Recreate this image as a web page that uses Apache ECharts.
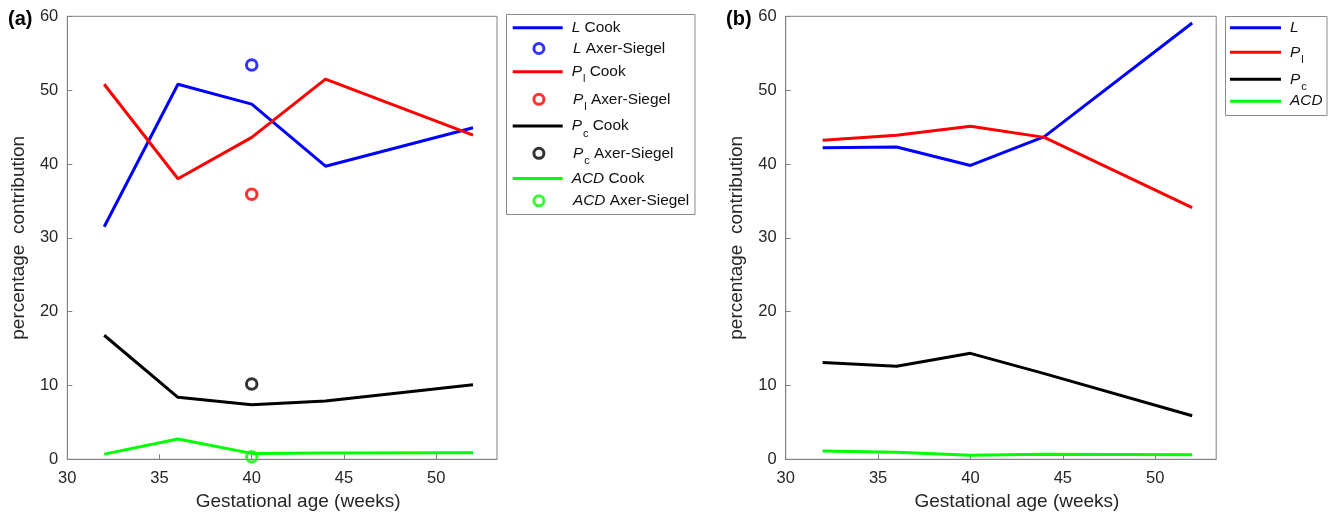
<!DOCTYPE html>
<html><head><meta charset="utf-8">
<script src="https://cdn.jsdelivr.net/npm/echarts@6/dist/echarts.min.js"></script>
<style>html,body{margin:0;padding:0;background:#fff}#c{width:1335px;height:517px}</style>
</head><body><div id="c"></div>
<script>
// ---------------- data ----------------
const weeks = [32, 36, 40, 44, 52];
const axerWeek = [40];
const xTickLabels = [30, 35, 40, 45, 50];
const yTickLabels = [0, 10, 20, 30, 40, 50, 60];

const aLCook   = [31.5, 50.8, 48.1, 39.7, 44.9];
const aPlCook  = [50.8, 38.0, 43.6, 51.5, 43.9];
const aPcCook  = [16.8, 8.4, 7.4, 7.9, 10.1];
const aACDCook = [0.7, 2.75, 0.8, 0.85, 0.9];
const aLAxer   = [53.4];
const aPlAxer  = [35.9];
const aPcAxer  = [10.2];
const aACDAxer = [0.35];

const bL   = [42.2, 42.3, 39.8, 43.7, 59.1];
const bPl  = [43.2, 43.9, 45.1, 43.6, 34.1];
const bPc  = [13.1, 12.6, 14.35, 11.6, 5.9];
const bACD = [1.12, 0.95, 0.54, 0.7, 0.62];

const namesA = ['L Cook', 'L Axer-Siegel', 'Pl Cook', 'Pl Axer-Siegel', 'Pc Cook', 'Pc Axer-Siegel', 'ACD Cook', 'ACD Axer-Siegel'];
const namesB = ['L', 'Pl', 'Pc', 'ACD'];

// ---------------- styling ----------------
const FONT = 'Liberation Sans, Arial, Helvetica, sans-serif';
const AXC = '#808080';
const TXT = '#262626';
const COLORS = { L: '#0000ff', Pl: '#ff0000', Pc: '#000000', ACD: '#00ff00' };
const richLabels = {
  'L Cook': '{i|L}{n| Cook}',
  'L Axer-Siegel': '{i|L}{n| Axer-Siegel}',
  'Pl Cook': '{i|P}{s|l}{n| Cook}',
  'Pl Axer-Siegel': '{i|P}{s|l}{n| Axer-Siegel}',
  'Pc Cook': '{i|P}{s|c}{n| Cook}',
  'Pc Axer-Siegel': '{i|P}{s|c}{n| Axer-Siegel}',
  'ACD Cook': '{i|ACD}{n| Cook}',
  'ACD Axer-Siegel': '{i|ACD}{n| Axer-Siegel}',
  'L': '{i|L}', 'Pl': '{i|P}{s|l}', 'Pc': '{i|P}{s|c}', 'ACD': '{i|ACD}'
};
const LFS = 15.4;
const rich = {
  n: { fontFamily: FONT, fontSize: LFS, lineHeight: 18, color: '#111' },
  i: { fontFamily: FONT, fontSize: LFS, lineHeight: 18, color: '#111', fontStyle: 'italic' },
  s: { fontFamily: FONT, fontSize: 11, lineHeight: 11, color: '#111', padding: [15, 0, 0, 1] }
};

const zip = (xs, ys) => xs.map((x, i) => [x, ys[i]]);
const keyOf = n => n.split(' ')[0];

function lineS(name, idx, xs, ys) {
  const c = COLORS[keyOf(name)];
  return { type: 'line', name, xAxisIndex: idx, yAxisIndex: idx, data: zip(xs, ys),
    symbol: 'none', lineStyle: { color: c, width: 3 }, itemStyle: { color: c },
    silent: true, animation: false };
}
function scatS(name, idx, xs, ys) {
  const c = COLORS[keyOf(name)];
  return { type: 'scatter', name, xAxisIndex: idx, yAxisIndex: idx, data: zip(xs, ys),
    symbol: 'circle', symbolSize: 10.5,
    itemStyle: { color: 'rgba(0,0,0,0)', borderColor: c, borderWidth: 3 },
    silent: true, animation: false };
}

function xAx(idx, nameShift) {
  return { type: 'value', gridIndex: idx, min: 30, max: 53.3, interval: 5,
    axisLine: { show: true, lineStyle: { color: AXC, width: 1 } },
    axisTick: { show: true, inside: true, length: 5, lineStyle: { color: AXC }, customValues: xTickLabels },
    axisLabel: { customValues: xTickLabels, margin: 11, fontSize: 16.5, color: TXT, fontFamily: FONT },
    splitLine: { show: false },
    name: 'Gestational age (weeks)', nameLocation: 'middle', nameGap: 33,
    nameTextStyle: { fontSize: 19, color: TXT, fontFamily: FONT, padding: [0, 0, 0, nameShift] } };
}
function yAx(idx) {
  return { type: 'value', gridIndex: idx, min: 0, max: 60, interval: 10,
    axisLine: { show: true, lineStyle: { color: AXC, width: 1 } },
    axisTick: { show: true, inside: true, length: 5, lineStyle: { color: AXC }, customValues: yTickLabels },
    axisLabel: { customValues: yTickLabels, margin: 9, fontSize: 16.5, color: TXT, fontFamily: FONT },
    splitLine: { show: false },
    name: 'percentage  contribution', nameLocation: 'middle', nameGap: 39, nameRotate: 90,
    nameTextStyle: { fontSize: 19, color: TXT, fontFamily: FONT } };
}

// legend item layout (icon left / centre y) — layout only
const legA = { lineLeft: 512.7, scatLeft: 532.4, width: 50, ys: [29.3, 50, 71.7, 99.3, 126, 153.3, 180, 202.3] };
const legB = { lineLeft: 1230, scatLeft: 1230, width: 51, ys: [29.3, 52.3, 79.3, 102.7] };

function legendsFor(names, lay, scatterFlags) {
  return names.map((nm, i) => {
    const hasSub = richLabels[nm].indexOf('{s|') >= 0;
    const c = COLORS[keyOf(nm)];
    const isScat = scatterFlags[i];
    const base = {
      data: [nm], top: lay.ys[i] - (hasSub ? 13 : 9), padding: 0,
      itemWidth: lay.width, selectedMode: false,
      formatter: n => richLabels[n],
      textStyle: { rich, padding: [0, 0, 0, 4], fontFamily: FONT, fontSize: LFS, color: '#111' }
    };
    if (isScat) {
      return Object.assign(base, { left: lay.scatLeft, itemHeight: 10,
        itemStyle: { color: 'rgba(0,0,0,0)', borderColor: c, borderWidth: 3 } });
    }
    return Object.assign(base, { left: lay.lineLeft, itemHeight: 3, icon: 'rect',
      itemStyle: { color: c, borderWidth: 0 } });
  });
}

const series = [
  lineS('L Cook', 0, weeks, aLCook), scatS('L Axer-Siegel', 0, axerWeek, aLAxer),
  lineS('Pl Cook', 0, weeks, aPlCook), scatS('Pl Axer-Siegel', 0, axerWeek, aPlAxer),
  lineS('Pc Cook', 0, weeks, aPcCook), scatS('Pc Axer-Siegel', 0, axerWeek, aPcAxer),
  lineS('ACD Cook', 0, weeks, aACDCook), scatS('ACD Axer-Siegel', 0, axerWeek, aACDAxer),
  lineS('L', 1, weeks, bL), lineS('Pl', 1, weeks, bPl),
  lineS('Pc', 1, weeks, bPc), lineS('ACD', 1, weeks, bACD)
];

const option = {
  animation: false,
  backgroundColor: '#ffffff',
  title: [
    { text: '(a)', left: 8, top: 9, padding: 0, textStyle: { fontSize: 20, fontWeight: 'bold', color: '#000', fontFamily: FONT } },
    { text: '(b)', left: 726, top: 9, padding: 0, textStyle: { fontSize: 20, fontWeight: 'bold', color: '#000', fontFamily: FONT } }
  ],
  grid: [
    { left: 67.3, top: 16.3, width: 429.7, height: 443, show: true, borderColor: AXC, borderWidth: 1, backgroundColor: 'transparent' },
    { left: 785.7, top: 16.3, width: 430.5, height: 443, show: true, borderColor: AXC, borderWidth: 1, backgroundColor: 'transparent' }
  ],
  xAxis: [xAx(0, 32), xAx(1, 32)],
  yAxis: [yAx(0), yAx(1)],
  legend: legendsFor(namesA, legA, [false, true, false, true, false, true, false, true])
    .concat(legendsFor(namesB, legB, [false, false, false, false])),
  graphic: [
    { type: 'rect', shape: { x: 506.5, y: 14.5, width: 188.5, height: 200 }, style: { fill: null, stroke: '#8c8c8c', lineWidth: 1 }, silent: true },
    { type: 'rect', shape: { x: 1225.5, y: 16.5, width: 101.5, height: 99 }, style: { fill: null, stroke: '#8c8c8c', lineWidth: 1 }, silent: true }
  ],
  series
};
const chart = echarts.init(document.getElementById('c'), null, { renderer: 'canvas' });
chart.setOption(option);
</script></body></html>
